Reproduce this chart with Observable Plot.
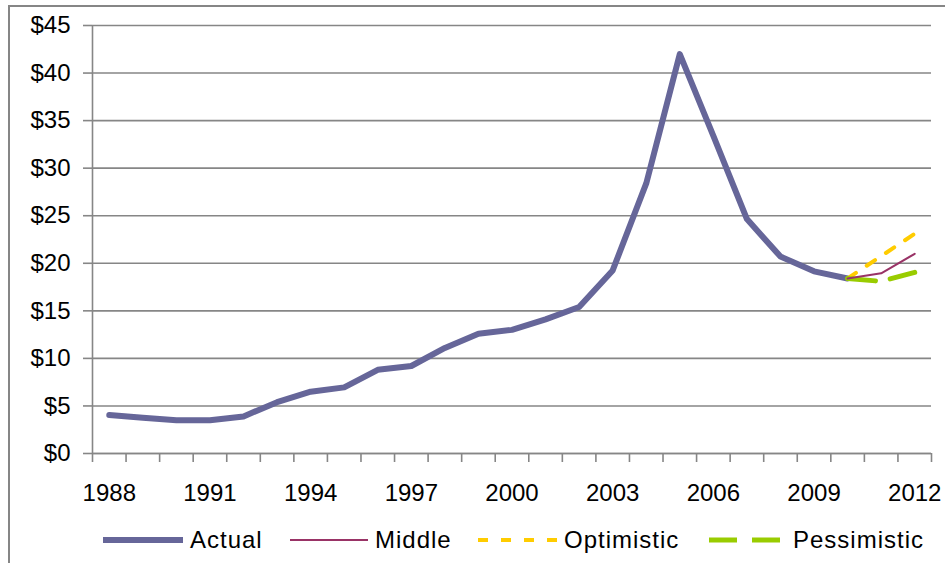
<!DOCTYPE html>
<html>
<head>
<meta charset="utf-8">
<script src="https://cdn.jsdelivr.net/npm/d3@7"></script>
<script src="https://cdn.jsdelivr.net/npm/@observablehq/plot@0.6"></script>
<style>
  html, body { margin: 0; padding: 0; overflow: hidden; background: #fff; }
  body { width: 945px; height: 563px; position: relative; font-family: "Liberation Sans", Arial, sans-serif; }
  #frame { position: absolute; left: 8px; top: 5px; width: 1000px; height: 700px;
           border-left: 2px solid #868686; border-top: 2px solid #868686; }
  #chart { position: absolute; left: 0; top: 0; }
  .item { position: absolute; top: 525px; height: 30px; display: flex; align-items: center;
          font-size: 24px; letter-spacing: 1px; color: #000; white-space: nowrap; }
  .item svg { display: block; }
</style>
</head>
<body>
<div id="frame"></div>
<div id="chart"></div>
<div id="legend"></div>
<script>
// Price history, 1988–2010, in dollars
const actualYears = [1988, 1989, 1990, 1991, 1992, 1993, 1994, 1995, 1996, 1997, 1998, 1999,
                     2000, 2001, 2002, 2003, 2004, 2005, 2006, 2007, 2008, 2009, 2010];
const actualValues = [4.05, 3.75, 3.5, 3.5, 3.9, 5.4, 6.5, 6.95, 8.8, 9.2, 11.1, 12.6,
                      13.0, 14.1, 15.4, 19.25, 28.4, 42.0, 33.4, 24.65, 20.7, 19.15, 18.4];

// Projection scenarios, 2010–2012
const scenarioYears = [2010, 2011, 2012];
const middleValues = [18.4, 18.95, 21.0];
const optimisticValues = [18.4, 20.75, 23.1];
const pessimisticValues = [18.4, 18.1, 19.05];

// Axis ticks
const yTicks = [0, 5, 10, 15, 20, 25, 30, 35, 40, 45];
const xLabelYears = [1988, 1991, 1994, 1997, 2000, 2003, 2006, 2009, 2012];
const xCategoryEdges = d3.range(1987.5, 2013, 1);

const series = [
  {name: "Actual", color: "#666699", width: 6, dash: null},
  {name: "Middle", color: "#993366", width: 2, dash: null},
  {name: "Optimistic", color: "#FFCC00", width: 4, dash: "10,13"},
  {name: "Pessimistic", color: "#99CC00", width: 5, dash: "28,15"}
];

const toRows = (xs, ys) => xs.map((x, i) => ({x, y: ys[i]}));
const actualRows = toRows(actualYears, actualValues);
const middleRows = toRows(scenarioYears, middleValues);
const optimisticRows = toRows(scenarioYears, optimisticValues);
const pessimisticRows = toRows(scenarioYears, pessimisticValues);

const gray = "#868686";
const font = "'Liberation Sans', Arial, sans-serif";

const chart = Plot.plot({
  width: 945,
  height: 510,
  marginLeft: 92,
  marginRight: 14,
  marginTop: 25,
  marginBottom: 57,
  style: {fontFamily: font, fontSize: "24px", overflow: "visible", background: "transparent"},
  x: {type: "linear", domain: [1987.5, 2012.5], label: null},
  y: {domain: [0, 45], label: null},
  marks: [
    Plot.gridY(yTicks, {stroke: gray, strokeOpacity: 1, strokeWidth: 1.6}),
    Plot.axisY({ticks: yTicks, tickSize: 9, tickPadding: 13, stroke: gray, strokeWidth: 1.6,
                fill: "#000", fontSize: 24, tickFormat: d => "$" + d, label: null}),
    Plot.ruleX([1987.5], {stroke: gray, strokeWidth: 1.6}),
    Plot.ruleY([0], {stroke: gray, strokeWidth: 1.6}),
    Plot.axisX({ticks: xCategoryEdges, tickSize: 9, stroke: gray, strokeWidth: 1.6,
                tickFormat: () => "", label: null}),
    Plot.axisX({ticks: xLabelYears, tickSize: 0, tickPadding: 30, fill: "#000",
                fontSize: 24, tickFormat: d => String(d), label: null}),
    Plot.line(actualRows, {x: "x", y: "y", stroke: series[0].color, strokeWidth: series[0].width,
                           strokeLinejoin: "round", strokeLinecap: "round"}),
    Plot.line(optimisticRows, {x: "x", y: "y", stroke: series[2].color, strokeWidth: series[2].width,
                               strokeDasharray: series[2].dash}),
    Plot.line(pessimisticRows, {x: "x", y: "y", stroke: series[3].color, strokeWidth: series[3].width,
                                strokeDasharray: series[3].dash}),
    Plot.line(middleRows, {x: "x", y: "y", stroke: series[1].color, strokeWidth: series[1].width})
  ]
});
document.getElementById("chart").appendChild(chart);

// Legend below the plot: a line swatch followed by the series name
const legendLayout = [
  {left: 103, swatch: 80, gap: 7},
  {left: 290, swatch: 78, gap: 7},
  {left: 478, swatch: 80, gap: 6},
  {left: 709, swatch: 73, gap: 11}
];
const legend = document.getElementById("legend");
series.forEach((s, i) => {
  const L = legendLayout[i];
  const item = document.createElement("div");
  item.className = "item";
  item.style.left = L.left + "px";
  const ns = "http://www.w3.org/2000/svg";
  const svg = document.createElementNS(ns, "svg");
  svg.setAttribute("width", L.swatch);
  svg.setAttribute("height", 12);
  svg.style.marginRight = L.gap + "px";
  const ln = document.createElementNS(ns, "line");
  ln.setAttribute("x1", 0); ln.setAttribute("x2", L.swatch);
  ln.setAttribute("y1", 6); ln.setAttribute("y2", 6);
  ln.setAttribute("stroke", s.color);
  ln.setAttribute("stroke-width", s.width);
  if (s.dash) ln.setAttribute("stroke-dasharray", s.dash);
  svg.appendChild(ln);
  const label = document.createElement("span");
  label.textContent = s.name;
  item.appendChild(svg);
  item.appendChild(label);
  legend.appendChild(item);
});
</script>
</body>
</html>
